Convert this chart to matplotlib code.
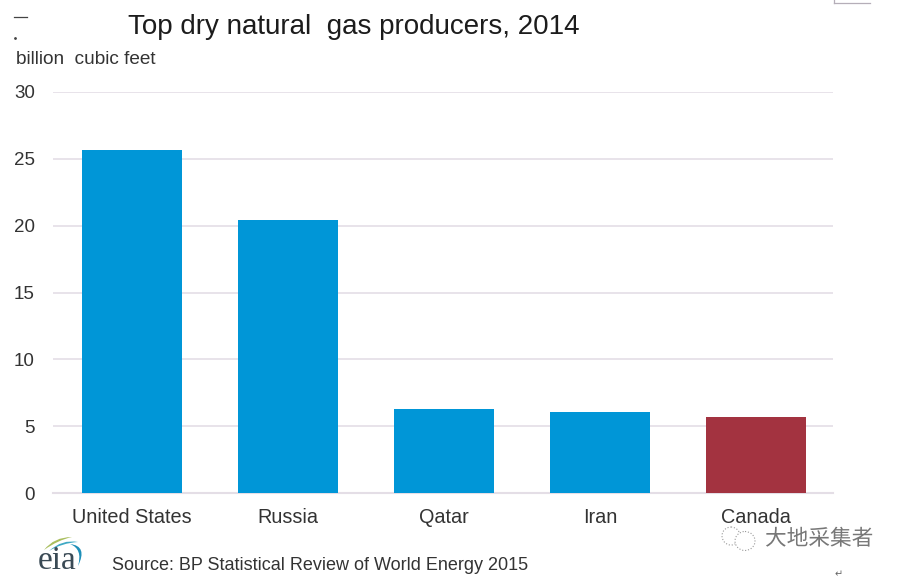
import matplotlib
matplotlib.use('Agg')
import matplotlib.pyplot as plt
import matplotlib.patheffects as pe
from matplotlib.patches import Ellipse, PathPatch
from matplotlib.path import Path
import numpy as np

W, H = 903, 578

countries = ['United States', 'Russia', 'Qatar', 'Iran', 'Canada']
production = [25.66, 20.4, 6.3, 6.06, 5.7]
bar_colors = ['#0096D7', '#0096D7', '#0096D7', '#0096D7', '#A33340']
yticks = [0, 5, 10, 15, 20, 25, 30]

plt.rcParams['font.family'] = ['Liberation Sans', 'DejaVu Sans']

fig = plt.figure(figsize=(W / 100, H / 100), dpi=100)
ax = fig.add_axes([53 / W, 1 - 493 / H, 780 / W, 401 / H])

x = np.arange(len(countries))
ax.bar(x, production, 0.64, color=bar_colors, zorder=3)

ax.set_xlim(-0.506, 4.494)
ax.set_ylim(0, 30)
ax.set_yticks(yticks)
ax.set_xticks(x, countries)
ax.grid(axis='y', color='#E4DEE6', lw=1.2, zorder=1)
ax.tick_params(axis='both', length=0, labelcolor='#333333')
ax.tick_params(axis='x', pad=11, labelsize=14.3)
ax.tick_params(axis='y', pad=13, labelsize=13.5)
for s in ['top', 'right', 'left']:
    ax.spines[s].set_visible(False)
ax.spines['bottom'].set_color('#E4DEE6')
ax.spines['bottom'].set_linewidth(1.5)
ax.spines['bottom'].set_zorder(2)


def put(px, py, s, **kw):
    fig.text(px / W, 1 - py / H, s, va='center', **kw)


put(128, 27, 'Top dry natural  gas producers, 2014', fontsize=20, color='#1c1c1c')
put(16, 59, 'billion  cubic feet', fontsize=13.7, color='#333333')
put(112, 565, 'Source: BP Statistical Review of World Energy 2015', fontsize=13, color='#333333')

over = fig.add_axes([0, 0, 1, 1], facecolor='none')
over.set_xlim(0, W)
over.set_ylim(H, 0)
over.axis('off')


def swoosh(pts, color):
    codes = [Path.MOVETO, Path.CURVE3, Path.CURVE3, Path.CURVE3, Path.CURVE3, Path.CLOSEPOLY]
    over.add_patch(PathPatch(Path(pts + [pts[0]], codes), fc=color, ec='none'))


# eia logo
put(38, 561, 'eia', fontsize=24, color='#3A4A55', family=['Liberation Serif'])
swoosh([(44, 550), (54, 537), (72, 537), (58, 540), (44, 550)], '#A9BE5E')
swoosh([(49, 551), (62, 539), (78, 542), (62, 543), (49, 551)], '#3FA9C4')
swoosh([(70, 544), (88, 546), (78, 566), (83, 549), (70, 544)], '#1E8FB8')

# watermark
halo = [pe.withStroke(linewidth=2, foreground='white')]
put(765, 539, '大地采集者', fontsize=15.6, color='#777777',
    family=['Noto Sans CJK SC', 'DejaVu Sans'], path_effects=halo)
over.add_patch(Ellipse((731, 536), 18, 18, fc='white', ec='#999999', lw=0.8, ls=':'))
over.add_patch(Ellipse((745, 541), 20, 19, fc='white', ec='#999999', lw=0.8, ls=':'))

# scan leftovers around the edges
over.plot([834, 870], [3, 3], color='#B5AEB8', lw=0.9)
over.plot([834, 834], [0, 3], color='#B5AEB8', lw=0.9)
over.plot([14, 27], [17, 17], color='#444444', lw=0.9)
over.plot([15], [38], '.', color='#444444', ms=2)
put(835, 574, '↵', fontsize=7, color='#666666', family=['DejaVu Sans'])

fig.savefig('out.png', dpi=100)
